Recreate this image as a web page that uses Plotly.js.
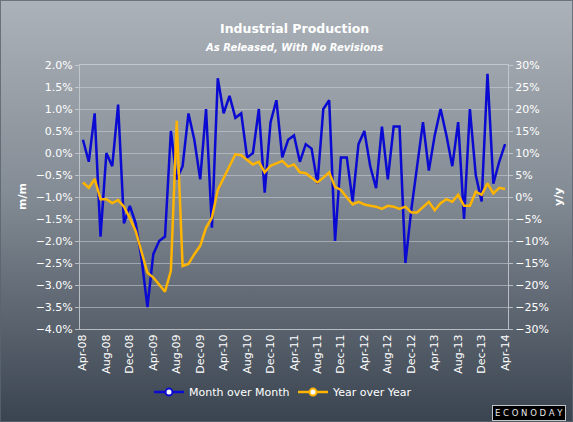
<!DOCTYPE html>
<html><head><meta charset="utf-8">
<script src="https://cdn.plot.ly/plotly-3.0.1.min.js"></script>
<style>
html,body{margin:0;padding:0;background:#3b4551;}
#chart{width:573px;height:422px;background:linear-gradient(to bottom,#acb2b9 0%,#848c95 45%,#3a4450 100%);box-shadow:inset 0 0 0 1px rgba(90,100,110,0.8);}
</style></head><body><div id="chart"></div>
<script>
// Month labels Apr-08 .. Apr-14
const monthNames = ['Jan','Feb','Mar','Apr','May','Jun','Jul','Aug','Sep','Oct','Nov','Dec'];
const months = [];
for (let k = 0; k < 73; k++) {
  const m = (3 + k) % 12;
  const yr = 8 + Math.floor((3 + k) / 12);
  months.push(monthNames[m] + '-' + String(yr).padStart(2, '0'));
}
const tickLabels = months.filter((_, i) => i % 4 === 0);

// Month over Month (%), left axis
const monthOverMonth = [0.3,-0.2,0.9,-1.9,0.0,-0.3,1.1,-1.6,-1.2,-1.6,
  -2.4,-3.5,-2.3,-2.0,-1.9,0.5,-0.6,-0.3,0.9,0.3,
  -0.6,1.0,-1.7,1.7,0.9,1.3,0.8,0.9,-0.1,0.0,
  1.0,-0.9,0.7,1.2,-0.1,0.3,0.4,-0.2,0.2,0.1,
  -0.7,1.0,1.2,-2.0,-0.1,-0.1,-1.1,0.2,0.5,-0.3,
  -0.8,0.6,-0.6,0.6,0.6,-2.5,-1.3,-0.3,0.7,-0.4,
  0.4,1.0,0.4,-0.3,0.7,-1.5,1.0,-0.5,-1.1,1.8,
  -0.7,-0.2,0.2];

// Year over Year (%), right axis
const yearOverYear = [3.3,2.1,4.1,-0.5,-0.5,-1.4,-0.7,-2.2,-4.8,-7.7,
  -12.5,-17.2,-18.3,-20.0,-21.5,-16.8,17.3,-15.7,-15.2,-13.0,
  -11.1,-7.0,-4.7,1.6,4.3,7.1,9.7,9.5,8.4,7.4,
  8.0,5.6,7.1,7.6,8.2,6.9,7.4,5.6,5.4,4.4,
  3.3,4.4,5.6,2.3,1.6,-0.1,-1.7,-1.1,-1.7,-2.0,
  -2.2,-2.7,-2.0,-2.2,-2.7,-2.2,-3.5,-3.5,-2.2,-1.1,
  -3.0,-1.4,-0.5,-1.1,0.5,-2.0,-2.0,1.2,0.5,3.1,
  0.8,2.1,1.8];

const blue = '#0a0ad2';
const gold = '#ffb400';
const font = 'DejaVu Sans, Verdana, sans-serif';

const traces = [
  {x: months, y: monthOverMonth, type: 'scatter', mode: 'lines', name: 'Month over Month',
   line: {color: blue, width: 2.5}, showlegend: false, yaxis: 'y'},
  {x: months, y: yearOverYear, type: 'scatter', mode: 'lines', name: 'Year over Year',
   line: {color: gold, width: 2.5}, showlegend: false, yaxis: 'y2'},
  {x: [null], y: [null], type: 'scatter', mode: 'lines+markers', name: 'Month over Month',
   line: {color: blue, width: 2.5}, marker: {symbol: 'circle', size: 7, color: '#ffffff', line: {color: blue, width: 2}}},
  {x: [null], y: [null], type: 'scatter', mode: 'lines+markers', name: 'Year over Year', yaxis: 'y2',
   line: {color: gold, width: 2.5}, marker: {symbol: 'circle', size: 7, color: '#ffffff', line: {color: gold, width: 2}}}
];

const gridColor = 'rgba(205,210,215,0.55)';
const frameColor = 'rgba(200,205,210,0.85)';

const layout = {
  width: 573, height: 422,
  margin: {l: 80, r: 65, t: 65, b: 93},
  paper_bgcolor: 'rgba(0,0,0,0)',
  plot_bgcolor: 'rgba(0,0,0,0)',
  font: {family: font, size: 11, color: '#ffffff'},
  showlegend: true,
  legend: {orientation: 'h', x: (149 - 80) / 428, xanchor: 'left', y: -0.239, yanchor: 'middle',
    entrywidth: 99, entrywidthmode: 'pixels',
    bgcolor: 'rgba(0,0,0,0)', font: {family: font, size: 11, color: '#ffffff'}},
  xaxis: {type: 'category', tickmode: 'array', tickvals: tickLabels, ticktext: tickLabels,
    tickangle: -90, range: [-0.5, 72.5], showgrid: false, zeroline: false,
    showline: true, linecolor: frameColor, linewidth: 1, mirror: true,
    ticks: '', tickfont: {family: font, size: 11, color: '#ffffff'}},
  yaxis: {range: [-4, 2], dtick: 0.5, tick0: 0, tickformat: '.1f', ticksuffix: '%',
    showgrid: true, gridcolor: gridColor, gridwidth: 1, zeroline: false,
    showline: true, linecolor: frameColor, linewidth: 1,
    ticks: 'outside', ticklen: 4, tickcolor: frameColor,
    tickfont: {family: font, size: 11, color: '#ffffff'}},
  yaxis2: {range: [-30, 30], dtick: 5, tick0: 0, ticksuffix: '%', overlaying: 'y', side: 'right',
    showgrid: false, zeroline: false, showline: true, linecolor: frameColor, linewidth: 1,
    ticks: 'outside', ticklen: 4, tickcolor: frameColor,
    tickfont: {family: font, size: 11, color: '#ffffff'}},
  annotations: [
    {text: '<b>Industrial Production</b>', xref: 'paper', yref: 'paper',
     x: (294 - 80) / 428, y: (329 - 28.5) / 264, xanchor: 'center', yanchor: 'middle', showarrow: false,
     font: {family: font, size: 12.5, color: '#ffffff'}},
    {text: '<b><i>As Released, With No Revisions</i></b>', xref: 'paper', yref: 'paper',
     x: (294 - 80) / 428, y: (329 - 47) / 264, xanchor: 'center', yanchor: 'middle', showarrow: false,
     font: {family: font, size: 10, color: '#ffffff'}},
    {text: '<b>m/m</b>', xref: 'paper', yref: 'paper', x: (22 - 80) / 428, y: (329 - 197) / 264,
     xanchor: 'center', yanchor: 'middle', textangle: -90, showarrow: false,
     font: {family: font, size: 11, color: '#ffffff'}},
    {text: '<b>y/y</b>', xref: 'paper', yref: 'paper', x: (558 - 80) / 428, y: (329 - 197) / 264,
     xanchor: 'center', yanchor: 'middle', textangle: -90, showarrow: false,
     font: {family: font, size: 11, color: '#ffffff'}},
    {text: 'E C O N O D A Y', xref: 'paper', yref: 'paper', x: (529 - 80) / 428, y: (329 - 413) / 264,
     xanchor: 'center', yanchor: 'middle', showarrow: false,
     bgcolor: '#000000', bordercolor: '#bfc4c9', borderwidth: 1, borderpad: 2,
     font: {family: font, size: 8.5, color: '#e8e8e8'}}
  ]
};

Plotly.newPlot('chart', traces, layout, {staticPlot: true, displayModeBar: false});
</script></body></html>
